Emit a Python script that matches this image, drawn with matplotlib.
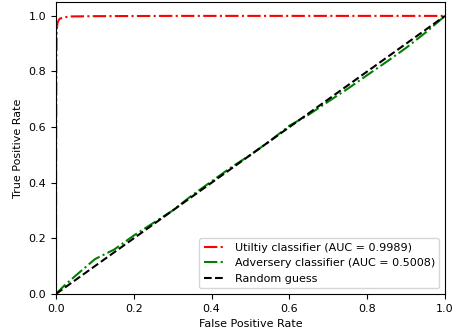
import numpy as np
import matplotlib
matplotlib.use("Agg")
import matplotlib.pyplot as plt

# utility classifier ROC
util_fpr = [0.0, 0.0005, 0.001, 0.002, 0.004, 0.007, 0.01, 0.02, 0.04, 0.1, 0.3, 0.6, 1.0]
util_tpr = [0.0, 0.5, 0.85, 0.95, 0.975, 0.985, 0.99, 0.995, 0.998, 0.999, 1.0, 1.0, 1.0]

# adversary classifier ROC
adv_fpr = [0.0, 0.02, 0.05, 0.1, 0.15, 0.2, 0.25, 0.3, 0.35, 0.4, 0.45, 0.5,
           0.55, 0.6, 0.65, 0.7, 0.75, 0.8, 0.85, 0.9, 0.95, 1.0]
adv_tpr = [0.0, 0.028, 0.065, 0.125, 0.16, 0.21, 0.255, 0.30, 0.355, 0.405, 0.455, 0.50,
           0.55, 0.605, 0.645, 0.692, 0.738, 0.787, 0.835, 0.885, 0.94, 1.0]

util_auc = 0.9989
adv_auc = 0.5008

fig = plt.figure(figsize=(4.55, 3.31), dpi=100)
ax = fig.add_axes([0.123, 0.112, 0.855, 0.882])

ax.plot(util_fpr, util_tpr, color='r', linestyle='-.',
        label='Utiltiy classifier (AUC = %0.4f)' % util_auc)
ax.plot(adv_fpr, adv_tpr, color='g', linestyle='-.',
        label='Adversery classifier (AUC = %0.4f)' % adv_auc)
ax.plot([0, 1], [0, 1], 'k--', label='Random guess')

ax.set_xlim(0, 1)
ax.set_ylim(0, 1.05)
ax.set_xlabel('False Positive Rate', fontsize=8)
ax.set_ylabel('True Positive Rate', fontsize=8)
ax.tick_params(labelsize=8)
ax.legend(loc='lower right', fontsize=8)

fig.savefig('out.png', dpi=100)
